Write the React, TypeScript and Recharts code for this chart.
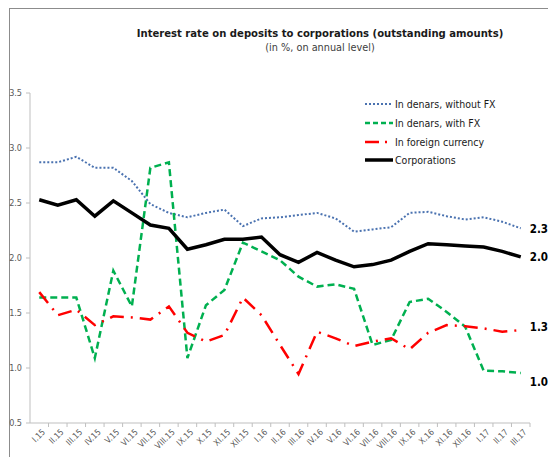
import { CartesianGrid, Line, LineChart, XAxis, YAxis } from "recharts";

const months = [
  "I.15", "II.15", "III.15", "IV.15", "V.15", "VI.15", "VII.15", "VIII.15", "IX.15",
  "X.15", "XI.15", "XII.15", "I.16", "II.16", "III.16", "IV.16", "V.16", "VI.16",
  "VII.16", "VIII.16", "IX.16", "X.16", "XI.16", "XII.16", "I.17", "II.17", "III.17",
];

const denarsNoFx = [
  2.87, 2.87, 2.92, 2.82, 2.82, 2.7, 2.49, 2.41, 2.37, 2.41, 2.44, 2.29, 2.36, 2.37,
  2.39, 2.41, 2.36, 2.24, 2.26, 2.28, 2.41, 2.42, 2.38, 2.35, 2.37, 2.33, 2.27,
];

const denarsFx = [
  1.64, 1.64, 1.64, 1.09, 1.885, 1.56, 2.82, 2.87, 1.09, 1.57, 1.71, 2.14, 2.06, 1.98,
  1.83, 1.74, 1.76, 1.72, 1.21, 1.255, 1.6, 1.63, 1.51, 1.375, 0.975, 0.97, 0.955,
];

const foreignCurrency = [
  1.69, 1.48, 1.53, 1.39, 1.47, 1.46, 1.44, 1.56, 1.32, 1.24, 1.3, 1.64, 1.48, 1.21,
  0.945, 1.33, 1.27, 1.2, 1.24, 1.27, 1.17, 1.32, 1.39, 1.38, 1.36, 1.33, 1.345,
];

const corporations = [
  2.53, 2.48, 2.53, 2.38, 2.52, 2.41, 2.3, 2.27, 2.08, 2.12, 2.17, 2.17, 2.19, 2.03,
  1.96, 2.05, 1.98, 1.92, 1.94, 1.98, 2.06, 2.13, 2.12, 2.11, 2.1, 2.06, 2.01,
];

const yTicks = [0.5, 1.0, 1.5, 2.0, 2.5, 3.0, 3.5];

const data = months.map((month, i) => ({
  month,
  noFx: denarsNoFx[i],
  withFx: denarsFx[i],
  foreign: foreignCurrency[i],
  corp: corporations[i],
}));

const FONT = "'DejaVu Sans Condensed', sans-serif";
const BLUE = "#4a72b0";
const GREEN = "#00b050";
const RED = "#ff0000";
const HALF_BAND = 9.26;
const last = months.length - 1;

function XTick({ x, y, payload }: any) {
  return (
    <g>
      <line x1={x + HALF_BAND} x2={x + HALF_BAND} y1={y} y2={y + 4} stroke="#bfbfbf" />
      <text
        transform={`translate(${x + 2},${y + 5}) rotate(-45)`}
        textAnchor="end"
        dominantBaseline="hanging"
        fontSize={8.5}
        fontFamily={FONT}
        fill="#595959"
      >
        {payload.value}
      </text>
    </g>
  );
}

function endLabel(dy: number) {
  return (props: any) => {
    if (props.index !== last) return null;
    return (
      <text
        key="end"
        x={props.x + 9}
        y={props.y + dy}
        dominantBaseline="central"
        fontSize={11.5}
        fontWeight="bold"
        fontFamily={FONT}
        fill="#000"
      >
        {Number(props.value).toFixed(1)}
      </text>
    );
  };
}

const legendItems = [
  { label: "In denars, without FX", color: BLUE, dash: "2 2", width: 2 },
  { label: "In denars, with FX", color: GREEN, dash: "5 3", width: 2.5 },
  { label: "In foreign currency", color: RED, dash: "14 6 2 10", width: 2.5 },
  { label: "Corporations", color: "#000", dash: undefined, width: 3.5 },
];

export default function App() {
  return (
    <div
      style={{
        position: "absolute",
        left: 0,
        top: 0,
        width: 548,
        height: 457,
        background: "#fff",
        fontFamily: FONT,
        overflow: "hidden",
      }}
    >
      <div style={{ position: "absolute", left: 9, top: 8, right: 0, height: 1, background: "#8c8c8c" }} />
      <div style={{ position: "absolute", left: 9, top: 8, bottom: 0, width: 1, background: "#8c8c8c" }} />
      <div
        style={{
          position: "absolute",
          left: 100,
          width: 440,
          top: 26,
          textAlign: "center",
          fontWeight: "bold",
          fontSize: 11.2,
          color: "#1a1a1a",
          lineHeight: "15px",
        }}
      >
        Interest rate on deposits to corporations (outstanding amounts)
      </div>
      <div
        style={{
          position: "absolute",
          left: 100,
          width: 440,
          top: 41,
          textAlign: "center",
          fontSize: 10.8,
          color: "#404040",
          lineHeight: "14px",
        }}
      >
        (in %, on annual level)
      </div>

      <LineChart
        width={548}
        height={457}
        data={data}
        margin={{ top: 93, right: 18, bottom: 0, left: 0 }}
      >
        <CartesianGrid vertical={false} horizontal={false} />
        <XAxis
          dataKey="month"
          interval={0}
          height={34}
          padding={{ left: HALF_BAND, right: HALF_BAND }}
          tickLine={false}
          tickSize={0}
          tickMargin={0}
          axisLine={{ stroke: "#bfbfbf" }}
          tick={<XTick />}
        />
        <YAxis
          width={30}
          domain={[0.5, 3.5]}
          ticks={yTicks}
          tickFormatter={(v) => Number(v).toFixed(1)}
          tickSize={4}
          tickMargin={4}
          axisLine={{ stroke: "#bfbfbf" }}
          tickLine={{ stroke: "#bfbfbf" }}
          tick={{ fontSize: 9, fill: "#595959", fontFamily: FONT }}
        />
        <Line
          dataKey="noFx"
          stroke={BLUE}
          strokeWidth={2}
          strokeDasharray="2 2"
          dot={false}
          label={endLabel(1)}
          isAnimationActive={false}
        />
        <Line
          dataKey="withFx"
          stroke={GREEN}
          strokeWidth={2.5}
          strokeDasharray="7 4"
          dot={false}
          label={endLabel(9)}
          isAnimationActive={false}
        />
        <Line
          dataKey="foreign"
          stroke={RED}
          strokeWidth={2.5}
          strokeDasharray="14 7 2 7"
          dot={false}
          label={endLabel(-3)}
          isAnimationActive={false}
        />
        <Line
          dataKey="corp"
          stroke="#000"
          strokeWidth={3.5}
          dot={false}
          label={endLabel(0)}
          isAnimationActive={false}
        />
      </LineChart>

      <div style={{ position: "absolute", left: 364, top: 95 }}>
        {legendItems.map((item) => (
          <div key={item.label} style={{ display: "flex", alignItems: "center", height: 18.7 }}>
            <svg width={30} height={10} style={{ display: "block" }}>
              <line
                x1={1}
                x2={29}
                y1={5}
                y2={5}
                stroke={item.color}
                strokeWidth={item.width}
                strokeDasharray={item.dash}
              />
            </svg>
            <span style={{ fontSize: 10.5, color: "#1a1a1a", marginLeft: 1 }}>{item.label}</span>
          </div>
        ))}
      </div>
    </div>
  );
}
